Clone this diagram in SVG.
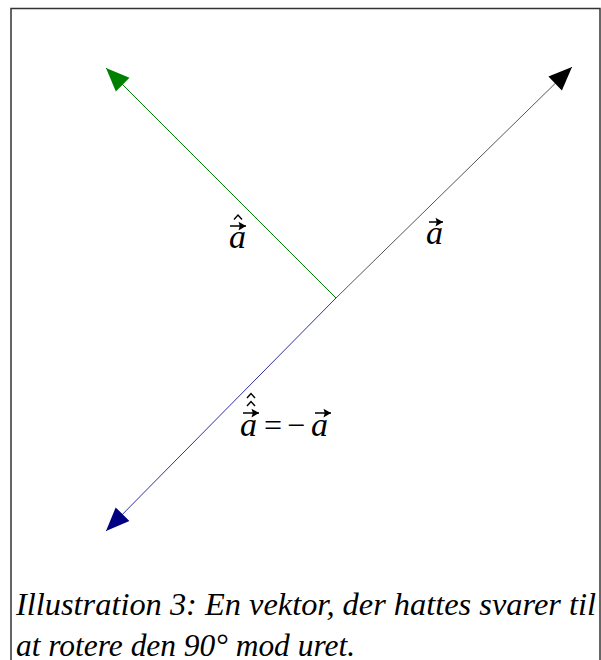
<svg xmlns="http://www.w3.org/2000/svg" width="601" height="660" viewBox="0 0 601 660">
<style>
.frame{fill:#fff;stroke:#333;stroke-width:1.5}
.var{font-family:"Liberation Serif","Times New Roman",serif;font-style:italic;font-size:34px;fill:#000}
.op{font-family:"Liberation Serif","Times New Roman",serif;font-size:32px;fill:#000}
.cap{font-family:"Liberation Serif","Times New Roman",serif;font-style:italic;font-size:31.5px;fill:#000}
.deco{fill:none;stroke:#000;stroke-width:1.4}
.vec{fill:none;stroke:#000;stroke-width:1.5}
</style>
<defs>
<marker id="hg" markerUnits="userSpaceOnUse" markerWidth="30" markerHeight="30" refX="0" refY="0" viewBox="-24 -12 28 24" orient="auto"><path d="M0,0 L-22,-9 L-22,9 Z" fill="#008000"/></marker>
<marker id="hk" markerUnits="userSpaceOnUse" markerWidth="30" markerHeight="30" refX="0" refY="0" viewBox="-24 -12 28 24" orient="auto"><path d="M0,0 L-22,-9 L-22,9 Z" fill="#000"/></marker>
<marker id="hb" markerUnits="userSpaceOnUse" markerWidth="30" markerHeight="30" refX="0" refY="0" viewBox="-24 -12 28 24" orient="auto"><path d="M0,0 L-22,-9 L-22,9 Z" fill="#000080"/></marker>
<marker id="sa" markerUnits="userSpaceOnUse" markerWidth="10" markerHeight="10" refX="0" refY="0" viewBox="-6 -4 7 8" orient="auto"><path d="M0,0 L-6,-3.5 L-5,0 L-6,3.5 Z" fill="#000"/></marker>
</defs>
<rect class="frame" x="11" y="8.5" width="589" height="660"/>
<g id="connectors">
<line x1="336" y1="298" x2="106" y2="68" stroke="#008000" stroke-width="1" marker-end="url(#hg)"/>
<line x1="336" y1="298" x2="572" y2="67" stroke="#555" stroke-width="1" marker-end="url(#hk)"/>
<line x1="336" y1="298" x2="106" y2="531" stroke="#3030a0" stroke-width="1" marker-end="url(#hb)"/>
</g>
<g id="label-a">
<text class="var" x="426" y="244">a</text>
<line class="vec" x1="429" y1="222" x2="443" y2="222" marker-end="url(#sa)"/>
</g>
<g id="label-ahat">
<text class="var" x="229" y="248">a</text>
<line class="vec" x1="230" y1="226" x2="246" y2="226" marker-end="url(#sa)"/>
<path class="deco" d="M234,219.5 L238,215 L242,219.5"/>
</g>
<g id="label-ahathat">
<text class="var" x="240" y="436">a</text>
<line class="vec" x1="243" y1="413" x2="259" y2="413" marker-end="url(#sa)"/>
<path class="deco" d="M247,406 L251,401.5 L255,406"/>
<path class="deco" d="M247,398 L251,393.5 L255,398"/>
<text class="op" x="264" y="436">=</text>
<text class="op" x="287" y="436">−</text>
<text class="var" x="311" y="436">a</text>
<line class="vec" x1="315" y1="413" x2="331" y2="413" marker-end="url(#sa)"/>
</g>
<g id="caption">
<text class="cap" x="16" y="615" textLength="580" lengthAdjust="spacingAndGlyphs">Illustration 3: En vektor, der hattes svarer til</text>
<text class="cap" x="16" y="656" textLength="339" lengthAdjust="spacingAndGlyphs">at rotere den 90° mod uret.</text>
</g>
</svg>
